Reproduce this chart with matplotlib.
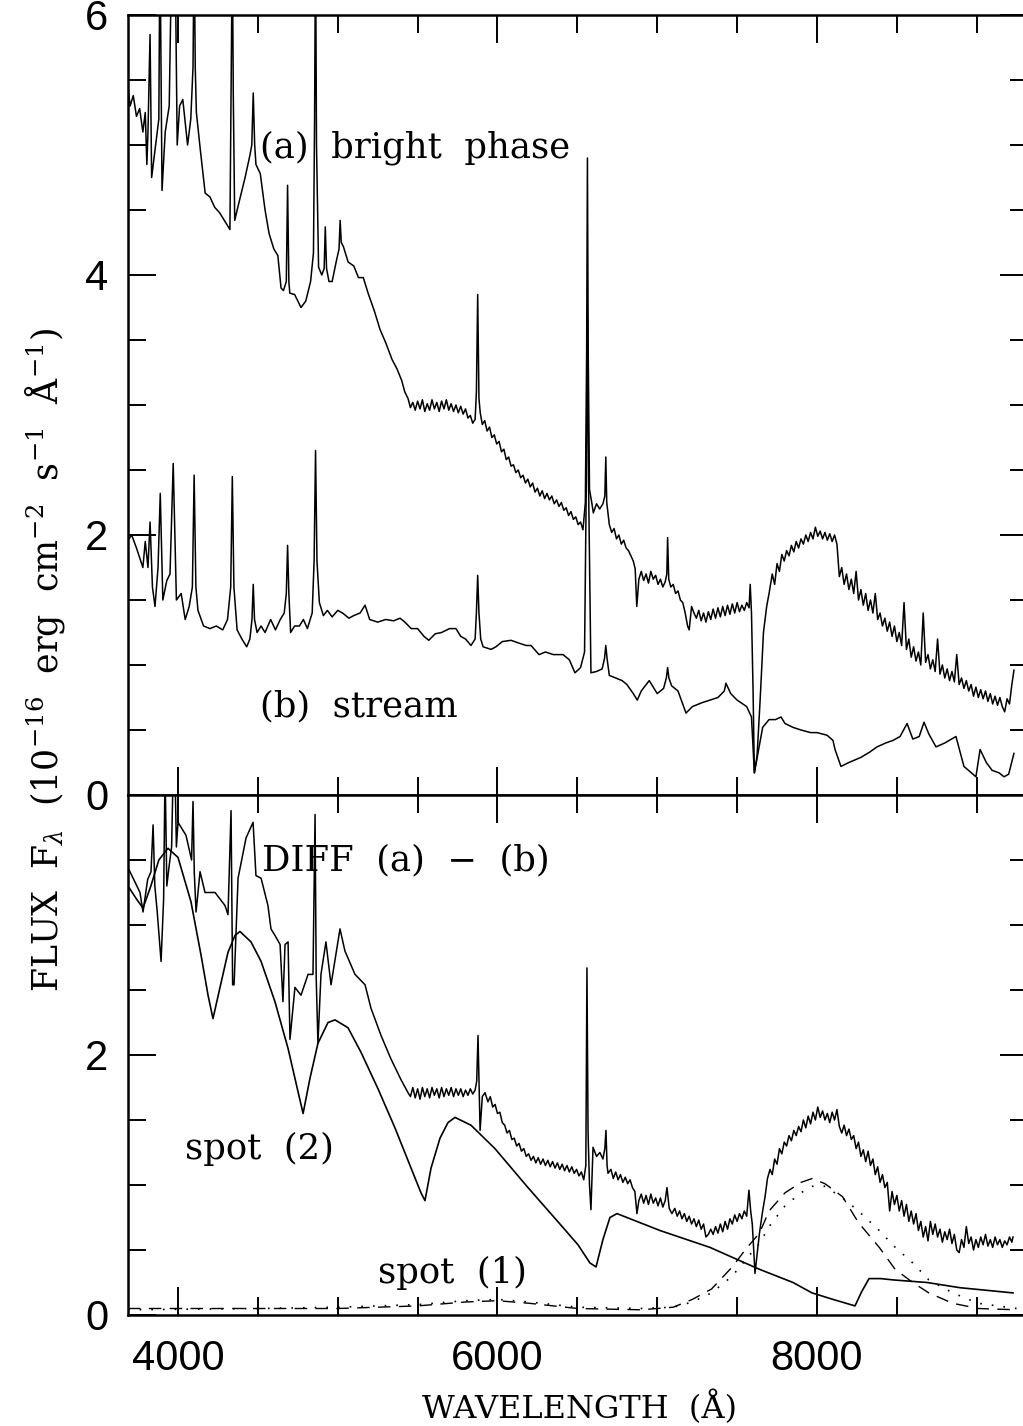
import numpy as np
import matplotlib
matplotlib.use("Agg")
import matplotlib.pyplot as plt
from matplotlib.ticker import MultipleLocator

# (a) bright phase spectrum, top panel
lam_a = [3687, 3700, 3720, 3740, 3760, 3780, 3795, 3805, 3812, 3825, 3835, 3860, 3880, 3887, 3895, 3900,
         3920, 3945, 3962, 3970, 3981, 3995, 4010, 4030, 4060, 4080, 4094, 4101, 4108, 4115, 4140, 4170,
         4200, 4230, 4260, 4300, 4325, 4334, 4340, 4346, 4355, 4390, 4420, 4450, 4462, 4471, 4480, 4488,
         4515, 4545, 4570, 4600, 4625, 4645, 4660, 4678, 4686, 4694, 4700, 4730, 4770, 4800, 4830, 4848,
         4855, 4861, 4867, 4880, 4900, 4915, 4922, 4930, 4945, 4965, 4990, 5008, 5015, 5022, 5035, 5065,
         5100, 5130, 5160, 5190, 5230, 5265, 5300, 5340, 5370,
         5400, 5420, 5440, 5455, 5470, 5485, 5500, 5515, 5530, 5545, 5560, 5575, 5590, 5605, 5620, 5635,
         5650, 5665, 5680, 5695, 5710, 5725, 5740, 5755, 5770, 5785, 5800, 5815, 5830, 5845, 5860, 5868,
         5876, 5884, 5892, 5905, 5920, 5935, 5950, 5965, 5980, 5995, 6010, 6025, 6040, 6055, 6070, 6085,
         6100, 6115, 6130, 6145, 6160, 6175, 6190, 6205, 6220, 6235, 6250, 6265, 6280, 6295, 6310, 6325,
         6340, 6355, 6370, 6385, 6400, 6415, 6430, 6445, 6460, 6475, 6490, 6505, 6520, 6535, 6550,
         6558, 6563, 6568, 6576, 6590, 6600, 6620, 6640, 6660, 6672, 6678, 6684,
         6700, 6715, 6730, 6745, 6760, 6775, 6790, 6805, 6820, 6835, 6850, 6862, 6872, 6885, 6900, 6915,
         6930, 6945, 6960, 6975, 6990, 7005, 7020, 7035, 7050, 7060, 7065, 7072, 7085, 7100, 7115, 7130,
         7145, 7160, 7175, 7190, 7200, 7215, 7230, 7245, 7260, 7275, 7290, 7305, 7320, 7335, 7350, 7365,
         7380, 7395, 7410, 7425, 7440, 7455, 7470, 7485, 7500, 7515, 7530, 7545, 7560, 7575, 7582, 7590,
         7600, 7608, 7625, 7645, 7665, 7685,
         7700, 7720, 7735, 7750, 7765, 7780, 7795, 7810, 7825, 7840, 7855, 7870, 7885, 7900, 7915, 7930,
         7945, 7960, 7975, 7990, 8005, 8020, 8035, 8050, 8065, 8080, 8095, 8110, 8125, 8140, 8155, 8170,
         8185, 8200, 8215, 8230, 8245, 8260, 8275, 8290, 8305, 8320, 8335, 8350, 8365, 8380, 8395, 8410,
         8425, 8440, 8455, 8470, 8485, 8500, 8515, 8530, 8545, 8560, 8575, 8590, 8605, 8620, 8635, 8650,
         8665, 8680, 8695, 8710, 8725, 8740, 8755, 8770, 8785, 8800, 8815, 8830, 8845, 8860, 8875, 8890,
         8905, 8920, 8935, 8950, 8965, 8980, 8995, 9010, 9025, 9040, 9055, 9070, 9085, 9100, 9115, 9130,
         9145, 9160, 9175, 9190, 9205, 9220, 9233]
flux_a = [5.45, 5.30, 5.38, 5.22, 5.28, 5.10, 5.25, 4.85, 5.10, 5.85, 4.75, 5.00, 5.20, 6.60, 5.40, 4.65,
          5.10, 5.30, 6.60, 6.60, 6.60, 5.00, 5.30, 5.35, 5.00, 5.20, 5.60, 6.60, 5.60, 5.25, 4.96, 4.63,
          4.60, 4.52, 4.48, 4.40, 4.35, 5.60, 6.60, 5.40, 4.42, 4.60, 4.75, 4.92, 5.00, 5.40, 5.00, 4.85,
          4.78, 4.50, 4.32, 4.20, 4.15, 3.90, 3.88, 3.95, 4.69, 3.95, 3.86, 3.85, 3.75, 3.80, 3.95, 4.17,
          5.20, 6.60, 5.00, 4.06, 4.00, 4.05, 4.37, 4.05, 3.95, 3.95, 4.10, 4.20, 4.42, 4.25, 4.22, 4.10,
          4.07, 3.98, 3.98, 3.86, 3.72, 3.58, 3.48, 3.35, 3.28,
          3.19, 3.10, 3.05, 2.98, 3.02, 2.96, 3.03, 2.97, 3.04, 2.95, 3.01, 2.96, 3.04, 2.97, 3.02, 2.95,
          3.03, 2.97, 3.04, 2.96, 3.01, 2.95, 3.00, 2.94, 2.99, 2.93, 2.97, 2.90, 2.92, 2.86, 2.89, 3.10,
          3.85, 3.05, 2.94, 2.85, 2.88, 2.80, 2.83, 2.75, 2.77, 2.70, 2.72, 2.64, 2.66, 2.58, 2.60, 2.53,
          2.54, 2.48, 2.50, 2.44, 2.46, 2.40, 2.43, 2.37, 2.40, 2.33, 2.36, 2.30, 2.34, 2.28, 2.32, 2.27,
          2.30, 2.24, 2.27, 2.22, 2.25, 2.19, 2.21, 2.15, 2.18, 2.12, 2.14, 2.08, 2.10, 2.04, 2.25,
          3.40, 4.90, 3.40, 2.35, 2.25, 2.17, 2.24, 2.20, 2.24, 2.30, 2.60, 2.25,
          2.08, 2.02, 2.05, 1.97, 2.00, 1.93, 1.96, 1.90, 1.88, 1.84, 1.80, 1.74, 1.45, 1.66, 1.72, 1.65,
          1.70, 1.63, 1.72, 1.66, 1.69, 1.62, 1.66, 1.60, 1.64, 1.70, 1.98, 1.66, 1.60, 1.62, 1.55, 1.57,
          1.50, 1.48, 1.40, 1.30, 1.27, 1.45, 1.40, 1.36, 1.42, 1.34, 1.40, 1.33, 1.41, 1.35, 1.43, 1.36,
          1.44, 1.37, 1.45, 1.38, 1.46, 1.39, 1.47, 1.40, 1.48, 1.41, 1.46, 1.42, 1.48, 1.44, 1.62, 1.40,
          0.80, 0.17, 0.30, 0.75, 1.25, 1.45,
          1.55, 1.70, 1.62, 1.78, 1.72, 1.85, 1.80, 1.88, 1.84, 1.92, 1.87, 1.95, 1.90, 1.97, 1.93, 2.00,
          1.95, 2.02, 1.97, 2.06, 1.99, 2.03, 1.97, 2.02, 1.96, 2.01, 1.95, 2.00, 1.93, 1.68, 1.75, 1.62,
          1.70, 1.58, 1.66, 1.55, 1.72, 1.50, 1.58, 1.46, 1.55, 1.42, 1.50, 1.40, 1.55, 1.35, 1.40, 1.30,
          1.36, 1.26, 1.33, 1.22, 1.30, 1.18, 1.25, 1.15, 1.48, 1.12, 1.20, 1.06, 1.14, 1.03, 1.10, 1.00,
          1.40, 1.02, 1.08, 0.97, 1.04, 0.95, 1.20, 0.93, 1.00, 0.90, 0.97, 0.88, 0.95, 0.87, 1.08, 0.85,
          0.90, 0.82, 0.88, 0.80, 0.85, 0.76, 0.83, 0.75, 0.81, 0.74, 0.80, 0.72, 0.78, 0.70, 0.76, 0.69,
          0.75, 0.68, 0.64, 0.74, 0.70, 0.85, 0.96]

# (b) stream spectrum, top panel
lam_b = [3687, 3710, 3740, 3780, 3795, 3812, 3825, 3840, 3856, 3875, 3889, 3905, 3930, 3950, 3970, 3990,
         4020, 4045, 4070, 4090, 4101, 4112, 4125, 4160, 4200, 4240, 4280, 4310, 4330, 4340, 4350, 4370,
         4400, 4430, 4450, 4463, 4471, 4479, 4495, 4520, 4545, 4580, 4610, 4640, 4665, 4678, 4686, 4694,
         4705, 4730, 4760, 4785, 4810, 4840, 4852, 4861, 4870, 4885, 4910, 4935, 4965, 5000, 5030, 5070,
         5100, 5140, 5171, 5200, 5250, 5300, 5350, 5390, 5420, 5460, 5500, 5540, 5570, 5610, 5650, 5700,
         5740, 5770, 5800, 5834, 5860, 5868, 5876, 5884, 5895, 5910, 5960, 5990, 6030, 6085, 6130, 6180,
         6210, 6260, 6300, 6350, 6410, 6450, 6485, 6520, 6545, 6556, 6563, 6570, 6585, 6620, 6655, 6670,
         6678, 6686, 6700, 6740, 6780, 6810, 6850, 6875, 6900, 6950, 7000, 7040, 7057, 7065, 7073, 7090,
         7130, 7180, 7220, 7280, 7330, 7380, 7420, 7430, 7460, 7500, 7560, 7590, 7608, 7630, 7660, 7700,
         7740, 7775, 7800, 7850, 7900, 7960, 8000, 8063, 8100, 8113, 8150, 8200, 8276, 8330, 8376, 8430,
         8476, 8520, 8564, 8600, 8640, 8670, 8700, 8745, 8800, 8870, 8920, 8995, 9021, 9060, 9096, 9140,
         9171, 9200, 9233]
flux_b = [1.96, 2.00, 1.90, 1.75, 1.95, 1.75, 2.10, 1.60, 1.45, 1.75, 2.32, 1.50, 1.65, 1.70, 2.55, 1.50,
          1.55, 1.35, 1.45, 1.60, 2.46, 1.60, 1.42, 1.30, 1.28, 1.30, 1.27, 1.35, 1.60, 2.45, 1.60, 1.27,
          1.20, 1.14, 1.20, 1.35, 1.62, 1.35, 1.25, 1.30, 1.25, 1.35, 1.27, 1.35, 1.40, 1.55, 1.92, 1.55,
          1.25, 1.30, 1.30, 1.35, 1.28, 1.40, 1.80, 2.65, 1.80, 1.48, 1.38, 1.42, 1.37, 1.42, 1.40, 1.36,
          1.38, 1.40, 1.46, 1.35, 1.33, 1.35, 1.34, 1.36, 1.33, 1.28, 1.28, 1.22, 1.19, 1.24, 1.25, 1.28,
          1.28, 1.22, 1.20, 1.15, 1.20, 1.40, 1.69, 1.40, 1.20, 1.14, 1.12, 1.14, 1.18, 1.19, 1.17, 1.15,
          1.15, 1.08, 1.10, 1.08, 1.08, 1.04, 0.94, 0.98, 1.10, 2.40, 3.70, 2.40, 0.94, 0.95, 0.97, 1.05,
          1.15, 1.05, 0.92, 0.90, 0.88, 0.85, 0.78, 0.73, 0.80, 0.88, 0.78, 0.82, 0.90, 0.98, 0.90, 0.84,
          0.80, 0.63, 0.68, 0.71, 0.73, 0.75, 0.80, 0.86, 0.78, 0.73, 0.68, 0.60, 0.17, 0.32, 0.52, 0.58,
          0.58, 0.60, 0.55, 0.52, 0.50, 0.48, 0.48, 0.46, 0.42, 0.35, 0.22, 0.25, 0.29, 0.33, 0.37, 0.40,
          0.42, 0.45, 0.55, 0.43, 0.45, 0.56, 0.47, 0.37, 0.40, 0.45, 0.22, 0.14, 0.35, 0.25, 0.19, 0.17,
          0.14, 0.16, 0.32]

# difference (a) - (b), bottom panel
lam_d = [3687, 3731, 3762, 3781, 3810, 3831, 3844, 3855, 3870, 3894, 3910, 3919, 3930, 3944, 3960, 3970,
         3981, 3990, 4000, 4050, 4085, 4094, 4102, 4113, 4138, 4169, 4232, 4294, 4313, 4332, 4342, 4351,
         4376, 4426, 4470, 4488, 4520, 4563, 4582, 4607, 4639, 4657, 4670, 4689, 4701, 4732, 4770, 4814,
         4845, 4858, 4865, 4876, 4895, 4926, 4958, 5014, 5045, 5108, 5171, 5208, 5271, 5333, 5396,
         5440, 5455, 5470, 5485, 5500, 5515, 5530, 5545, 5560, 5575, 5590, 5605, 5620, 5635, 5650, 5665,
         5680, 5695, 5710, 5725, 5740, 5755, 5770, 5785, 5800, 5815, 5830, 5845, 5860, 5870, 5878, 5884,
         5891, 5905, 5922, 5940, 5955, 5970, 5985, 6000, 6015, 6030, 6045, 6060, 6075, 6090, 6105, 6120,
         6135, 6150, 6165, 6180, 6195, 6210, 6225, 6240, 6255, 6270, 6285, 6300, 6315, 6330, 6345, 6360,
         6375, 6390, 6405, 6420, 6435, 6450, 6465, 6480, 6495, 6510, 6525, 6540, 6553,
         6560, 6567, 6576, 6585, 6598, 6620, 6641, 6660, 6672, 6679, 6686,
         6692, 6710, 6725, 6740, 6755, 6770, 6785, 6800, 6815, 6830, 6845, 6860, 6873, 6885, 6900, 6915,
         6930, 6945, 6960, 6975, 6990, 7005, 7020, 7035, 7050, 7061, 7075, 7092, 7110, 7125, 7140, 7155,
         7170, 7185, 7200, 7215, 7230, 7245, 7260, 7275, 7290, 7305, 7320, 7335, 7350, 7365, 7380, 7395,
         7410, 7425, 7440, 7455, 7470, 7485, 7500, 7515, 7530, 7545, 7560, 7574, 7585, 7595, 7612,
         7640, 7660, 7675, 7690, 7706, 7720, 7735, 7750, 7765, 7780, 7795, 7810, 7825, 7840, 7855, 7870,
         7885, 7900, 7915, 7930, 7945, 7960, 7975, 7990, 8005, 8020, 8035, 8050, 8065, 8080, 8095, 8110,
         8125, 8140, 8155, 8170, 8185, 8200, 8215, 8230, 8245, 8260, 8275, 8290, 8305, 8320, 8335, 8350,
         8365, 8380, 8395, 8410, 8425, 8440, 8455, 8470, 8485, 8500, 8515, 8530, 8545, 8560, 8575, 8590,
         8605, 8620, 8635, 8650, 8665, 8680, 8695, 8710, 8725, 8740, 8755, 8770, 8785, 8800, 8815, 8830,
         8845, 8860, 8875, 8890, 8905, 8920, 8935, 8950, 8965, 8980, 8995, 9010, 9025, 9040, 9055, 9070,
         9085, 9100, 9115, 9130, 9145, 9160, 9175, 9190, 9205, 9220, 9227]
flux_d = [3.44, 3.33, 3.25, 3.10, 3.35, 3.41, 3.77, 3.30, 3.10, 2.72, 3.20, 4.20, 3.30, 3.45, 3.60, 4.20,
          4.20, 3.60, 3.79, 3.69, 3.50, 3.95, 3.40, 3.10, 3.41, 3.25, 3.25, 3.15, 3.08, 3.88, 2.54, 2.54,
          3.36, 3.67, 3.79, 3.38, 3.36, 3.15, 2.97, 2.92, 2.85, 2.41, 2.85, 2.87, 2.12, 2.52, 2.46, 2.62,
          2.62, 3.85, 2.60, 2.09, 2.62, 2.87, 2.54, 2.97, 2.80, 2.62, 2.54, 2.36, 2.15, 1.97, 1.81,
          1.71, 1.68, 1.75, 1.67, 1.74, 1.66, 1.75, 1.68, 1.74, 1.67, 1.75, 1.69, 1.74, 1.67, 1.75, 1.68,
          1.74, 1.69, 1.75, 1.68, 1.74, 1.69, 1.74, 1.68, 1.73, 1.69, 1.74, 1.70, 1.73, 1.80, 2.15, 1.80,
          1.42, 1.68, 1.71, 1.64, 1.68, 1.60, 1.62, 1.55, 1.56, 1.48, 1.46, 1.40, 1.42, 1.35, 1.36, 1.30,
          1.32, 1.26, 1.28, 1.22, 1.24, 1.19, 1.22, 1.17, 1.21, 1.16, 1.20, 1.15, 1.19, 1.14, 1.18, 1.13,
          1.17, 1.12, 1.16, 1.11, 1.15, 1.10, 1.14, 1.09, 1.12, 1.07, 1.10, 1.04, 1.15,
          2.67, 1.40, 1.00, 0.81, 1.29, 1.22, 1.25, 1.20, 1.28, 1.42, 1.15,
          1.09, 1.12, 1.05, 1.10, 1.04, 1.08, 1.02, 1.06, 1.01, 1.04, 0.98, 0.95, 0.78, 0.88, 0.93, 0.86,
          0.92, 0.85, 0.93, 0.86, 0.90, 0.84, 0.90, 0.83, 0.88, 0.98, 0.82, 0.78, 0.82, 0.76, 0.80, 0.74,
          0.78, 0.72, 0.76, 0.70, 0.74, 0.68, 0.73, 0.66, 0.70, 0.60, 0.62, 0.66, 0.62, 0.68, 0.63, 0.70,
          0.64, 0.72, 0.66, 0.74, 0.70, 0.77, 0.72, 0.78, 0.74, 0.80, 0.76, 0.96, 0.80, 0.70, 0.32,
          0.63, 0.80, 0.91, 1.05, 1.12, 1.08, 1.20, 1.16, 1.28, 1.24, 1.33, 1.30, 1.38, 1.34, 1.42, 1.38,
          1.45, 1.41, 1.50, 1.44, 1.53, 1.47, 1.56, 1.50, 1.60, 1.52, 1.57, 1.50, 1.55, 1.48, 1.56, 1.50,
          1.58, 1.45, 1.40, 1.46, 1.38, 1.43, 1.35, 1.38, 1.28, 1.33, 1.22, 1.27, 1.18, 1.26, 1.15, 1.20,
          1.08, 1.14, 1.02, 1.08, 0.98, 1.02, 0.80, 0.95, 0.85, 0.92, 0.80, 0.88, 0.76, 0.85, 0.72, 0.80,
          0.70, 0.78, 0.65, 0.72, 0.60, 0.68, 0.57, 0.72, 0.62, 0.70, 0.60, 0.66, 0.56, 0.64, 0.58, 0.66,
          0.55, 0.62, 0.50, 0.48, 0.58, 0.52, 0.68, 0.55, 0.60, 0.50, 0.58, 0.52, 0.60, 0.54, 0.62, 0.53,
          0.58, 0.52, 0.60, 0.54, 0.58, 0.52, 0.57, 0.54, 0.60, 0.56, 0.60]

# spot (2) model, solid
lam_s2 = [3687, 3740, 3781, 3830, 3880, 3937, 4000, 4081, 4144, 4188, 4219, 4263, 4313, 4357, 4388,
          4457, 4520, 4607, 4689, 4751, 4783, 4826, 4876, 4939, 4983, 5064, 5146, 5252, 5358, 5459,
          5521, 5546, 5584, 5640, 5690, 5734, 5834, 5984, 6191, 6398, 6504, 6579, 6617, 6660, 6704,
          6748, 7017, 7330, 7550, 7643, 7850, 7969, 8100, 8238, 8280, 8326, 8400, 8476, 8689, 8895, 9227]
flux_s2 = [3.30, 3.20, 3.13, 3.30, 3.50, 3.59, 3.52, 3.18, 2.77, 2.46, 2.28, 2.52, 2.79, 2.92, 2.95,
           2.87, 2.72, 2.41, 2.05, 1.72, 1.55, 1.82, 2.09, 2.25, 2.27, 2.21, 2.02, 1.74, 1.44, 1.13,
           0.94, 0.88, 1.13, 1.36, 1.48, 1.52, 1.46, 1.28, 0.98, 0.69, 0.54, 0.40, 0.37, 0.58, 0.75,
           0.78, 0.65, 0.52, 0.40, 0.35, 0.25, 0.17, 0.12, 0.07, 0.18, 0.28, 0.28, 0.27, 0.25, 0.21, 0.17]

# spot (1) components, dashed and dotted
lam_s1 = [3687, 4500, 5000, 5500, 5800, 6000, 6200, 6500, 6900, 7100, 7220, 7340, 7470, 7550, 7640,
          7700, 7800, 7900, 7970, 8050, 8160, 8260, 8390, 8490, 8600, 8700, 8850, 9010, 9250]
flux_dash = [0.05, 0.05, 0.05, 0.07, 0.10, 0.11, 0.09, 0.05, 0.04, 0.06, 0.12, 0.20, 0.37, 0.50, 0.63,
             0.80, 0.94, 1.02, 1.05, 1.01, 0.91, 0.71, 0.52, 0.35, 0.25, 0.17, 0.09, 0.05, 0.04]
flux_dot = [0.04, 0.05, 0.06, 0.08, 0.11, 0.12, 0.10, 0.06, 0.05, 0.06, 0.10, 0.17, 0.30, 0.42, 0.55,
            0.68, 0.84, 0.94, 0.99, 0.99, 0.90, 0.80, 0.65, 0.52, 0.40, 0.27, 0.17, 0.09, 0.05]

plt.rcParams['mathtext.fontset'] = 'dejavuserif'
serif = 'DejaVu Serif'
sans = 'Liberation Sans'

W, H = 1023, 1426
fig = plt.figure(figsize=(W / 100, H / 100), dpi=100)
left = 128 / W
width = (1028 - 128) / W
ax1 = fig.add_axes([left, 1 - 795 / H, width, (795 - 15) / H])
ax2 = fig.add_axes([left, 1 - 1315 / H, width, (1315 - 795) / H])

lw = 1.1
ax1.plot(lam_a, flux_a, color='black', lw=lw)
ax1.plot(lam_b, flux_b, color='black', lw=lw)
ax2.plot(lam_d, flux_d, color='black', lw=lw)
ax2.plot(lam_s2, flux_s2, color='black', lw=1.2)
ax2.plot(lam_s1, flux_dash, color='black', lw=1.0, dashes=(9, 6))
ax2.plot(lam_s1, flux_dot, color='black', lw=1.2, dashes=(1, 6))

for ax, top in ((ax1, 6), (ax2, 4)):
    ax.set_xlim(3687, 9321)
    ax.set_ylim(0, top)
    ax.xaxis.set_major_locator(MultipleLocator(2000))
    ax.xaxis.set_minor_locator(MultipleLocator(500))
    ax.yaxis.set_major_locator(MultipleLocator(2))
    ax.yaxis.set_minor_locator(MultipleLocator(0.5))
    ax.tick_params(which='both', direction='in', top=True, right=True, width=1.4,
                   labelsize=30, pad=14)
    ax.tick_params(which='major', length=20)
    ax.tick_params(which='minor', length=13)
    for s in ax.spines.values():
        s.set_linewidth(1.8)

ax1.tick_params(labelbottom=False)
ax2.tick_params(axis='x', pad=17)
ax1.set_yticks([0, 2, 4, 6])
ax1.set_yticklabels(['0', '2', '4', '6'], family=sans)
ax2.set_yticks([0, 2, 4])
ax2.set_yticklabels(['0', '2', ''], family=sans)
ax2.set_xticks([4000, 6000, 8000])
ax2.set_xticklabels(['4000', '6000', '8000'], family=sans)

fs = 25.5
ax1.text(4513, 4.98, '(a)  bright  phase', family=serif, fontsize=fs, va='center')
ax1.text(4513, 0.68, '(b)  stream', family=serif, fontsize=fs, va='center')
ax2.text(4525, 3.5, 'DIFF  (a)  \u2212  (b)', family=serif, fontsize=fs, va='center')
ax2.text(4044, 1.28, 'spot  (2)', family=serif, fontsize=fs, va='center')
ax2.text(5252, 0.32, 'spot  (1)', family=serif, fontsize=fs, va='center')

fig.text(580 / W, 1 - 1408 / H, 'WAVELENGTH  (\u00c5)', family=serif, fontsize=23,
         ha='center', va='center')
fig.text(45 / W, 1 - 660 / H,
         r'FLUX  F$_\lambda$  (10$^{-16}$  erg  cm$^{-2}$  s$^{-1}$  $\mathrm{\AA}^{-1}$)',
         family=serif, fontsize=25, rotation=90, ha='center', va='center')

fig.savefig('out.png', dpi=100)
